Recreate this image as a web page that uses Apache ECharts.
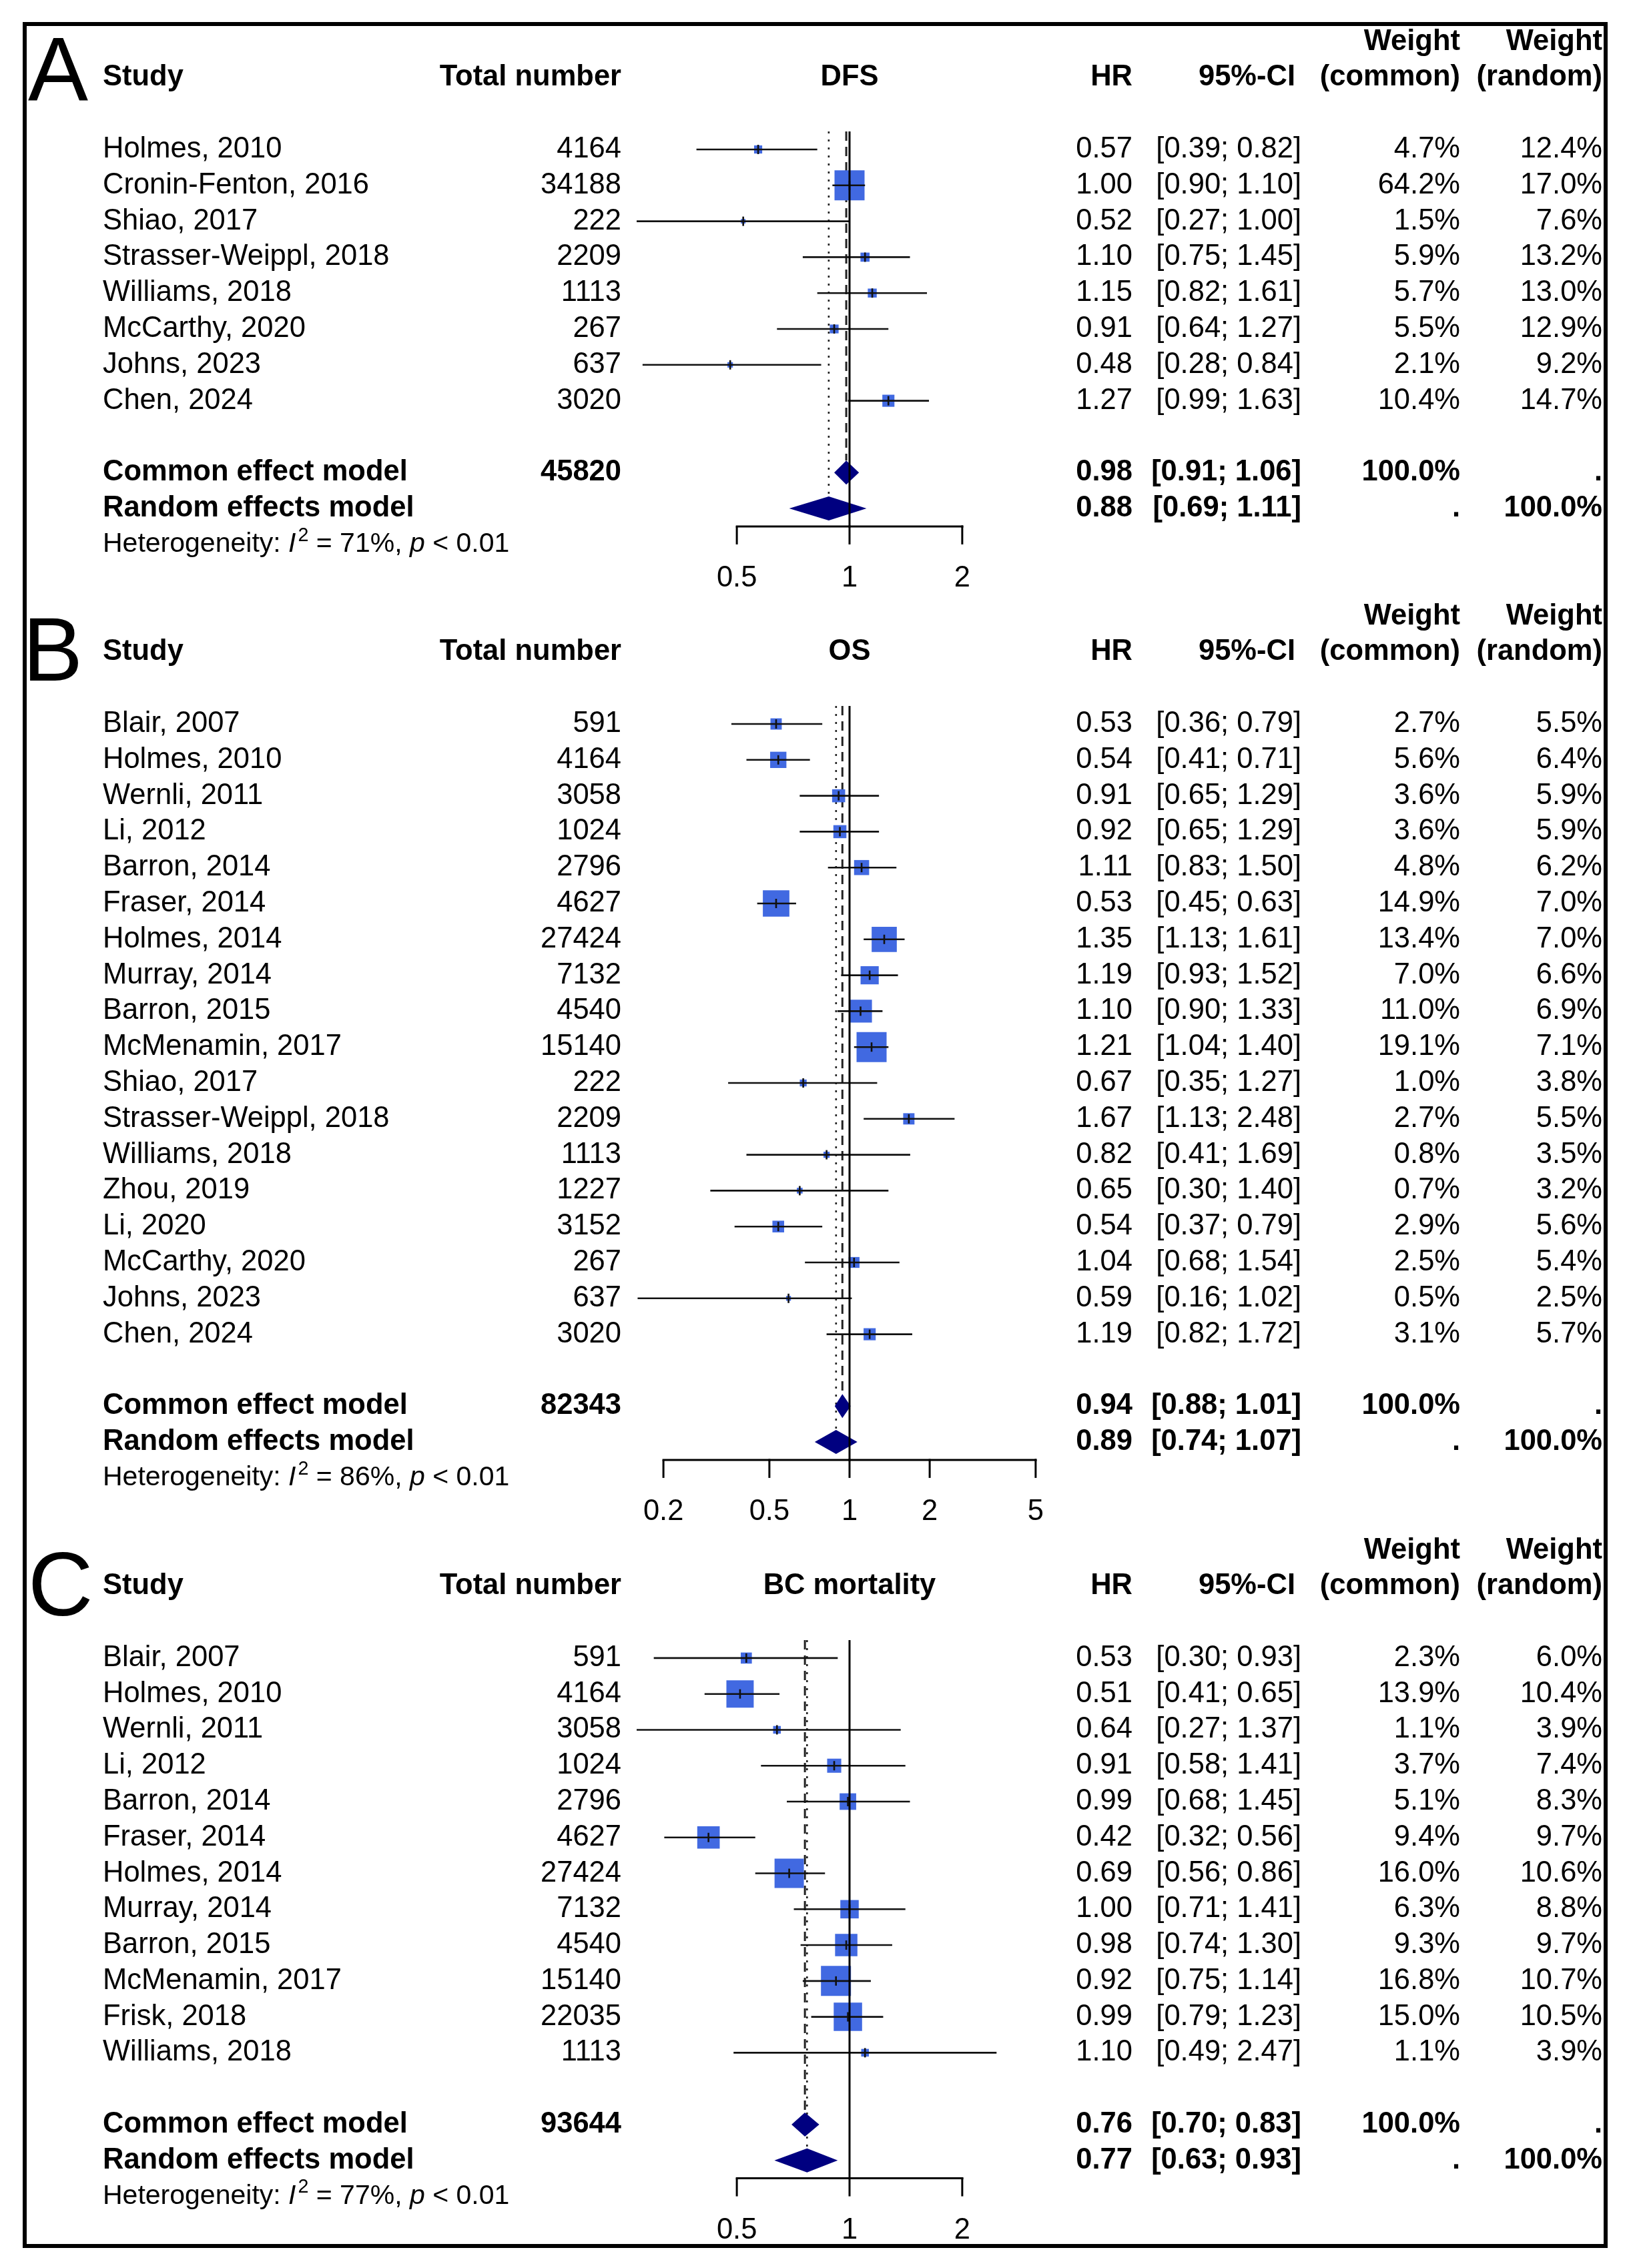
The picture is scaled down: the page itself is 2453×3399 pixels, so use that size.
<!DOCTYPE html>
<html>
<head>
<meta charset="utf-8">
<script src="https://cdn.jsdelivr.net/npm/echarts@6/dist/echarts.min.js"></script>
<style>
html,body{margin:0;padding:0;background:#ffffff;}
#chart{width:2453px;height:3399px;}
</style>
</head>
<body>
<div id="chart"></div>
<script>
// ---------------- Panel A: DFS ----------------
const studiesA = ['Holmes, 2010','Cronin-Fenton, 2016','Shiao, 2017','Strasser-Weippl, 2018','Williams, 2018','McCarthy, 2020','Johns, 2023','Chen, 2024'];
const totalA = [4164, 34188, 222, 2209, 1113, 267, 637, 3020];
const hrA = [0.57, 1.00, 0.52, 1.10, 1.15, 0.91, 0.48, 1.27];
const lowerA = [0.39, 0.90, 0.27, 0.75, 0.82, 0.64, 0.28, 0.99];
const upperA = [0.82, 1.10, 1.00, 1.45, 1.61, 1.27, 0.84, 1.63];
const wCommonA = [4.7, 64.2, 1.5, 5.9, 5.7, 5.5, 2.1, 10.4];
const wRandomA = [12.4, 17.0, 7.6, 13.2, 13.0, 12.9, 9.2, 14.7];
const pooledTotalA = 45820;
const commonA = [0.98, 0.91, 1.06];
const randomA = [0.88, 0.69, 1.11];
const i2A = 71;
const ticksA = [0.5, 1, 2];

// ---------------- Panel B: OS ----------------
const studiesB = ['Blair, 2007','Holmes, 2010','Wernli, 2011','Li, 2012','Barron, 2014','Fraser, 2014','Holmes, 2014','Murray, 2014','Barron, 2015','McMenamin, 2017','Shiao, 2017','Strasser-Weippl, 2018','Williams, 2018','Zhou, 2019','Li, 2020','McCarthy, 2020','Johns, 2023','Chen, 2024'];
const totalB = [591, 4164, 3058, 1024, 2796, 4627, 27424, 7132, 4540, 15140, 222, 2209, 1113, 1227, 3152, 267, 637, 3020];
const hrB = [0.53, 0.54, 0.91, 0.92, 1.11, 0.53, 1.35, 1.19, 1.10, 1.21, 0.67, 1.67, 0.82, 0.65, 0.54, 1.04, 0.59, 1.19];
const lowerB = [0.36, 0.41, 0.65, 0.65, 0.83, 0.45, 1.13, 0.93, 0.90, 1.04, 0.35, 1.13, 0.41, 0.30, 0.37, 0.68, 0.16, 0.82];
const upperB = [0.79, 0.71, 1.29, 1.29, 1.50, 0.63, 1.61, 1.52, 1.33, 1.40, 1.27, 2.48, 1.69, 1.40, 0.79, 1.54, 1.02, 1.72];
const wCommonB = [2.7, 5.6, 3.6, 3.6, 4.8, 14.9, 13.4, 7.0, 11.0, 19.1, 1.0, 2.7, 0.8, 0.7, 2.9, 2.5, 0.5, 3.1];
const wRandomB = [5.5, 6.4, 5.9, 5.9, 6.2, 7.0, 7.0, 6.6, 6.9, 7.1, 3.8, 5.5, 3.5, 3.2, 5.6, 5.4, 2.5, 5.7];
const pooledTotalB = 82343;
const commonB = [0.94, 0.88, 1.01];
const randomB = [0.89, 0.74, 1.07];
const i2B = 86;
const ticksB = [0.2, 0.5, 1, 2, 5];

// ---------------- Panel C: BC mortality ----------------
const studiesC = ['Blair, 2007','Holmes, 2010','Wernli, 2011','Li, 2012','Barron, 2014','Fraser, 2014','Holmes, 2014','Murray, 2014','Barron, 2015','McMenamin, 2017','Frisk, 2018','Williams, 2018'];
const totalC = [591, 4164, 3058, 1024, 2796, 4627, 27424, 7132, 4540, 15140, 22035, 1113];
const hrC = [0.53, 0.51, 0.64, 0.91, 0.99, 0.42, 0.69, 1.00, 0.98, 0.92, 0.99, 1.10];
const lowerC = [0.30, 0.41, 0.27, 0.58, 0.68, 0.32, 0.56, 0.71, 0.74, 0.75, 0.79, 0.49];
const upperC = [0.93, 0.65, 1.37, 1.41, 1.45, 0.56, 0.86, 1.41, 1.30, 1.14, 1.23, 2.47];
const wCommonC = [2.3, 13.9, 1.1, 3.7, 5.1, 9.4, 16.0, 6.3, 9.3, 16.8, 15.0, 1.1];
const wRandomC = [6.0, 10.4, 3.9, 7.4, 8.3, 9.7, 10.6, 8.8, 9.7, 10.7, 10.5, 3.9];
const pooledTotalC = 93644;
const commonC = [0.76, 0.70, 0.83];
const randomC = [0.77, 0.63, 0.93];
const i2C = 77;
const ticksC = [0.5, 1, 2];

const panelTitles = ['DFS', 'OS', 'BC mortality'];
const panelLetters = ['A', 'B', 'C'];

// ---------------- layout / style ----------------
const FONT = '"Liberation Sans", Arial, Helvetica, sans-serif';
const FS = 43.5;
const FS_HET = 41;
const ROW_H = 53.8;
const ONE_X = 1273;
const SQ_MAX = 45;
const SQ_COLOR = '#4169E1';
const DIA_COLOR = '#000080';
const DIA_H = 36;
const COL = {study: 154, total: 931, hr: 1697, ciHead: 1941, ci: 1950, wc: 2188, wr: 2401};

const panels = [
  {studies: studiesA, total: totalA, hr: hrA, lower: lowerA, upper: upperA, wc: wCommonA, wr: wRandomA,
   pooled: pooledTotalA, common: commonA, random: randomA, i2: i2A, ticks: ticksA},
  {studies: studiesB, total: totalB, hr: hrB, lower: lowerB, upper: upperB, wc: wCommonB, wr: wRandomB,
   pooled: pooledTotalB, common: commonB, random: randomB, i2: i2B, ticks: ticksB},
  {studies: studiesC, total: totalC, hr: hrC, lower: lowerC, upper: upperC, wc: wCommonC, wr: wRandomC,
   pooled: pooledTotalC, common: commonC, random: randomC, i2: i2C, ticks: ticksC}
];
const geom = [
  {row2Y: 224, xMin: 0.25, xMax: 4, pxDec: 561, maxRow: 15, lx: 42, ly: 113},
  {row2Y: 1085, xMin: 0.1, xMax: 10, pxDec: 399, maxRow: 25, lx: 34, ly: 983},
  {row2Y: 2485, xMin: 0.25, xMax: 4, pxDec: 561, maxRow: 19, lx: 42, ly: 2384}
];

const mctx = document.createElement('canvas').getContext('2d');
function textWidth(t, size, style) {
  mctx.font = (style || 'normal') + ' normal ' + size + 'px ' + FONT;
  return mctx.measureText(t).width;
}
const f2 = v => v.toFixed(2);
const ci = (l, u) => '[' + f2(l) + '; ' + f2(u) + ']';
const pct = v => v.toFixed(1) + '%';

function txt(text, x, y, align, bold, size, style) {
  return {type: 'text', style: {text: text, x: x, y: y, align: align, verticalAlign: 'middle',
    fontFamily: FONT, fontSize: size || FS, fontWeight: bold ? 'bold' : 'normal',
    fontStyle: style || 'normal', fill: '#000'}};
}

const grids = [], xAxes = [], yAxes = [], series = [];

panels.forEach((p, gi) => {
  const g = geom[gi];
  const n = p.studies.length;
  const commonRow = n + 3, randomRow = n + 4, hetRow = n + 5;
  const axisRow = randomRow + 0.5, labelRow = axisRow + 1.45;
  const left = ONE_X + g.pxDec * Math.log10(g.xMin);
  const width = g.pxDec * Math.log10(g.xMax / g.xMin);
  grids.push({left: left, width: width, top: g.row2Y - 3 * ROW_H, height: ROW_H * (g.maxRow + 1), containLabel: false});
  xAxes.push({type: 'log', logBase: 10, gridIndex: gi, min: g.xMin, max: g.xMax, show: false});
  yAxes.push({type: 'value', gridIndex: gi, inverse: true, min: -1, max: g.maxRow, show: false});
  const base = {type: 'custom', xAxisIndex: gi, yAxisIndex: gi, clip: false, silent: true, animation: false};

  // reference lines for pooled estimates (dashed = common, dotted = random)
  series.push(Object.assign({}, base, {
    z: 1,
    data: [[p.common[0], commonRow, 0], [p.random[0], randomRow, 1]],
    encode: {x: 0, y: 1},
    renderItem: (params, api) => {
      const top = api.coord([api.value(0), 1.5]);
      const bot = api.coord([api.value(0), api.value(1)]);
      const dotted = api.value(2) === 1;
      return {type: 'line', shape: {x1: top[0], y1: top[1], x2: bot[0], y2: bot[1] - DIA_H / 2},
        style: {stroke: '#222', lineWidth: dotted ? 2.6 : 3, lineDash: dotted ? [3, 9] : [14, 9]}};
    }
  }));

  // axis: line, ticks, labels
  series.push(Object.assign({}, base, {
    z: 2,
    data: p.ticks.map((t, i) => [t, axisRow, p.ticks[Math.min(i + 1, p.ticks.length - 1)]]),
    encode: {x: 0, y: 1},
    renderItem: (params, api) => {
      const a = api.coord([api.value(0), api.value(1)]);
      const b = api.coord([api.value(2), api.value(1)]);
      const lab = api.coord([api.value(0), labelRow]);
      return {type: 'group', children: [
        {type: 'line', shape: {x1: a[0] - 1.5, y1: a[1], x2: b[0] + 1.5, y2: a[1]}, style: {stroke: '#000', lineWidth: 3}},
        {type: 'line', shape: {x1: a[0], y1: a[1], x2: a[0], y2: a[1] + 27}, style: {stroke: '#000', lineWidth: 3}},
        txt(String(p.ticks[params.dataIndex]), a[0], lab[1], 'center', false, FS)
      ]};
    }
  }));

  // study squares with CI
  const wmax = Math.max.apply(null, p.wc);
  series.push(Object.assign({}, base, {
    z: 3,
    data: p.studies.map((s, i) => [p.hr[i], 2 + i, p.lower[i], p.upper[i], p.wc[i]]),
    encode: {x: 0, y: 1},
    renderItem: (params, api) => {
      const c = api.coord([api.value(0), api.value(1)]);
      const l = api.coord([api.value(2), api.value(1)]);
      const h = api.coord([api.value(3), api.value(1)]);
      const s = SQ_MAX * Math.sqrt(api.value(4) / wmax);
      return {type: 'group', children: [
        {type: 'rect', shape: {x: c[0] - s / 2, y: c[1] - s / 2, width: s, height: s}, style: {fill: SQ_COLOR}},
        {type: 'line', shape: {x1: l[0], y1: c[1], x2: h[0], y2: c[1]}, style: {stroke: '#111', lineWidth: 2.6}},
        {type: 'line', shape: {x1: c[0], y1: c[1] - 7, x2: c[0], y2: c[1] + 7}, style: {stroke: '#111', lineWidth: 2.6}}
      ]};
    }
  }));

  // diamonds
  series.push(Object.assign({}, base, {
    z: 3,
    data: [[p.common[0], commonRow, p.common[1], p.common[2]], [p.random[0], randomRow, p.random[1], p.random[2]]],
    encode: {x: 0, y: 1},
    renderItem: (params, api) => {
      const c = api.coord([api.value(0), api.value(1)]);
      const l = api.coord([api.value(2), api.value(1)]);
      const h = api.coord([api.value(3), api.value(1)]);
      return {type: 'polygon', shape: {points: [[l[0], c[1]], [c[0], c[1] - DIA_H / 2], [h[0], c[1]], [c[0], c[1] + DIA_H / 2]]},
        style: {fill: DIA_COLOR}};
    }
  }));

  // solid line of no effect
  series.push(Object.assign({}, base, {
    z: 4,
    data: [[1, 1.5, axisRow]],
    encode: {x: 0, y: 1},
    renderItem: (params, api) => {
      const a = api.coord([1, api.value(1)]);
      const b = api.coord([1, api.value(2)]);
      return {type: 'line', shape: {x1: a[0], y1: a[1], x2: b[0], y2: b[1]}, style: {stroke: '#000', lineWidth: 3}};
    }
  }));

  // table text cells
  const cells = [];
  cells.push({row: -1, x: COL.wc, a: 'right', b: true, t: 'Weight'});
  cells.push({row: -1, x: COL.wr, a: 'right', b: true, t: 'Weight'});
  cells.push({row: 0, x: COL.study, a: 'left', b: true, t: 'Study'});
  cells.push({row: 0, x: COL.total, a: 'right', b: true, t: 'Total number'});
  cells.push({row: 0, x: 'one', a: 'center', b: true, t: panelTitles[gi]});
  cells.push({row: 0, x: COL.hr, a: 'right', b: true, t: 'HR'});
  cells.push({row: 0, x: COL.ciHead, a: 'right', b: true, t: '95%-CI'});
  cells.push({row: 0, x: COL.wc, a: 'right', b: true, t: '(common)'});
  cells.push({row: 0, x: COL.wr, a: 'right', b: true, t: '(random)'});
  p.studies.forEach((s, i) => {
    const r = 2 + i;
    cells.push({row: r, x: COL.study, a: 'left', b: false, t: s});
    cells.push({row: r, x: COL.total, a: 'right', b: false, t: String(p.total[i])});
    cells.push({row: r, x: COL.hr, a: 'right', b: false, t: f2(p.hr[i])});
    cells.push({row: r, x: COL.ci, a: 'right', b: false, t: ci(p.lower[i], p.upper[i])});
    cells.push({row: r, x: COL.wc, a: 'right', b: false, t: pct(p.wc[i])});
    cells.push({row: r, x: COL.wr, a: 'right', b: false, t: pct(p.wr[i])});
  });
  cells.push({row: commonRow, x: COL.study, a: 'left', b: true, t: 'Common effect model'});
  cells.push({row: commonRow, x: COL.total, a: 'right', b: true, t: String(p.pooled)});
  cells.push({row: commonRow, x: COL.hr, a: 'right', b: true, t: f2(p.common[0])});
  cells.push({row: commonRow, x: COL.ci, a: 'right', b: true, t: ci(p.common[1], p.common[2])});
  cells.push({row: commonRow, x: COL.wc, a: 'right', b: true, t: '100.0%'});
  cells.push({row: commonRow, x: COL.wr, a: 'right', b: true, t: '.'});
  cells.push({row: randomRow, x: COL.study, a: 'left', b: true, t: 'Random effects model'});
  cells.push({row: randomRow, x: COL.hr, a: 'right', b: true, t: f2(p.random[0])});
  cells.push({row: randomRow, x: COL.ci, a: 'right', b: true, t: ci(p.random[1], p.random[2])});
  cells.push({row: randomRow, x: COL.wc, a: 'right', b: true, t: '.'});
  cells.push({row: randomRow, x: COL.wr, a: 'right', b: true, t: '100.0%'});

  series.push(Object.assign({}, base, {
    z: 5,
    data: cells.map(c => [1, c.row]),
    encode: {x: 0, y: 1},
    renderItem: (params, api) => {
      const c = cells[params.dataIndex];
      const pt = api.coord([1, api.value(1)]);
      const x = c.x === 'one' ? pt[0] : c.x;
      return txt(c.t, x, pt[1], c.a, c.b, FS);
    }
  }));

  // heterogeneity line
  series.push(Object.assign({}, base, {
    z: 5,
    data: [[1, hetRow]],
    encode: {x: 0, y: 1},
    renderItem: (params, api) => {
      const y = api.coord([1, api.value(1)])[1];
      const pieces = [
        {t: 'Heterogeneity: ', s: 'normal', size: FS_HET, dy: 0},
        {t: 'I', s: 'italic', size: FS_HET, dy: 0},
        {t: '2', s: 'normal', size: FS_HET * 0.7, dy: -13},
        {t: ' = ' + p.i2 + '%, ', s: 'normal', size: FS_HET, dy: 0},
        {t: 'p', s: 'italic', size: FS_HET, dy: 0},
        {t: ' < 0.01', s: 'normal', size: FS_HET, dy: 0}
      ];
      let x = COL.study;
      const children = [];
      pieces.forEach((pc, k) => {
        children.push(txt(pc.t, x, y + pc.dy, 'left', false, pc.size, pc.s));
        x += textWidth(pc.t, pc.size, pc.s) + (k === 1 ? 3 : 0);
      });
      return {type: 'group', children: children};
    }
  }));
});

const graphics = [
  {type: 'rect', z: 100, shape: {x: 37, y: 36, width: 2369, height: 3330},
   style: {fill: 'none', stroke: '#000', lineWidth: 6}}
];
geom.forEach((g, gi) => {
  graphics.push({type: 'text', z: 100, x: g.lx, y: g.ly,
    style: {text: panelLetters[gi], fontFamily: FONT, fontSize: 135, fontWeight: 'normal', fill: '#000',
      align: 'left', verticalAlign: 'middle'}});
});

const chart = echarts.init(document.getElementById('chart'), null, {renderer: 'canvas', width: 2453, height: 3399});
chart.setOption({
  backgroundColor: '#ffffff',
  animation: false,
  grid: grids,
  xAxis: xAxes,
  yAxis: yAxes,
  series: series,
  graphic: graphics
});
</script>
</body>
</html>
